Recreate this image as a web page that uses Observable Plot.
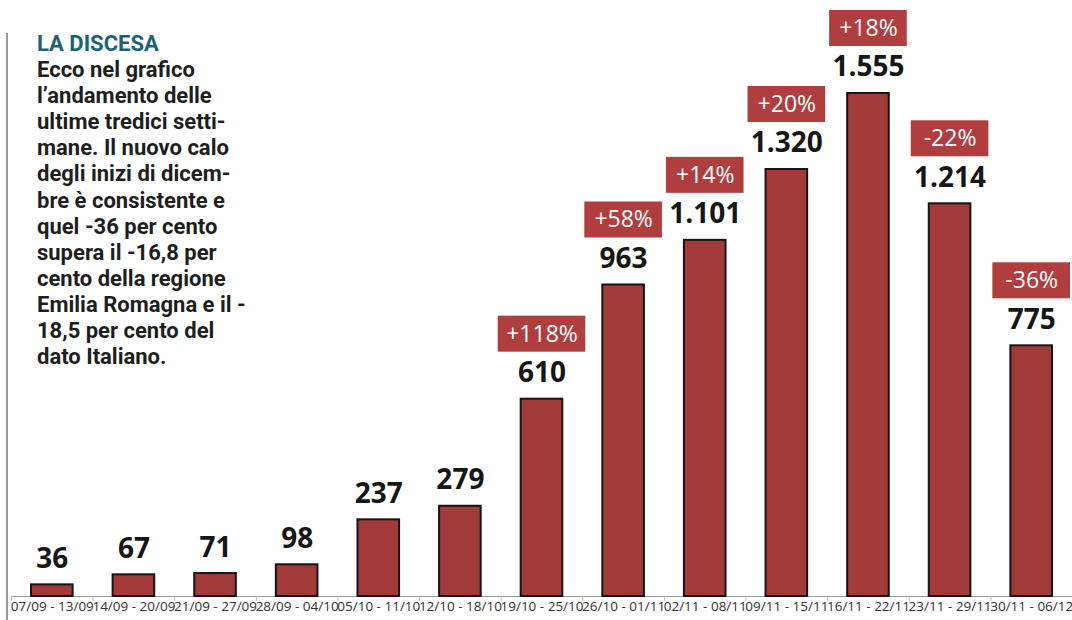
<!DOCTYPE html>
<html>
<head>
<meta charset="utf-8">
<script src="https://cdn.jsdelivr.net/npm/d3@7"></script>
<script src="https://cdn.jsdelivr.net/npm/@observablehq/plot@0.6"></script>
<style>
  html, body { margin: 0; padding: 0; background: #fff; }
  #wrap { position: relative; width: 1072px; height: 620px; overflow: hidden; }
  #rule { position: absolute; left: 6px; top: 33px; width: 0; height: 590px; border-left: 2px solid #999; }
  #note { position: absolute; left: 37px; top: 31px; font-family: Roboto, sans-serif; font-weight: 700; font-size: 22px; color: #1e1e1e; }
  #note div { height: 26.1px; line-height: 26.1px; white-space: nowrap; }
  #note .t { color: #1b6178; font-weight: 700; }
  #chart { position: absolute; left: 0; top: 0; }
</style>
</head>
<body>
<div id="wrap">
  <div id="chart"></div>
  <div id="rule"></div>
  <div id="note"></div>
</div>
<script>
const noteTitle = "LA DISCESA";
const noteLines = ["Ecco nel grafico", "l’andamento delle", "ultime tredici setti-", "mane. Il nuovo calo", "degli inizi di dicem-", "bre è consistente e", "quel -36 per cento", "supera il -16,8 per", "cento della regione", "Emilia Romagna e il -", "18,5 per cento del", "dato Italiano."];
const weeks = ["07/09 - 13/09","14/09 - 20/09","21/09 - 27/09","28/09 - 04/10","05/10 - 11/10","12/10 - 18/10","19/10 - 25/10","26/10 - 01/11","02/11 - 08/11","09/11 - 15/11","16/11 - 22/11","23/11 - 29/11","30/11 - 06/12"];
const cases = [36, 67, 71, 98, 237, 279, 610, 963, 1101, 1320, 1555, 1214, 775];
const changes = ["", "", "", "", "", "", "+118%", "+58%", "+14%", "+20%", "+18%", "-22%", "-36%"];

const note = d3.select("#note");
note.append("div").attr("class", "t").text(noteTitle);
noteLines.forEach(l => note.append("div").text(l));

const data = weeks.map((w, i) => ({week: w, value: cases[i], change: changes[i]}));
const withChange = data.filter(d => d.change !== "");
const fmt = d3.formatLocale({decimal: ",", thousands: ".", grouping: [3], currency: ["", "€"]}).format(",d");

const chart = Plot.plot({
  width: 1072,
  height: 620,
  marginLeft: 11,
  marginRight: 0,
  marginTop: 93,
  marginBottom: 24,
  style: {fontFamily: "Open Sans, sans-serif", background: "transparent"},
  x: {domain: weeks, padding: 0, round: false, label: null},
  y: {domain: [0, 1555], axis: null},
  marks: [
    Plot.ruleY([0], {stroke: "#9a9a9a", strokeWidth: 1.2}),
    Plot.ruleX(weeks, {x: d => d, y1: 0, y2: 0, dx: -40.8, insetBottom: -5, stroke: "#bbb"}),
    Plot.barY(data, {x: "week", y: "value", insetLeft: 20, insetRight: 20, fill: "#a23a3a", stroke: "#151515", strokeWidth: 2}),
    Plot.text(data, {x: "week", y: "value", text: d => fmt(d.value), dy: -26, fontSize: 28, fontWeight: 700, fill: "#161616"}),
    Plot.barY(withChange.filter(d => d.change.length <= 4), {x: "week", y1: "value", y2: "value", dy: -65, insetTop: -18, insetBottom: -18, insetLeft: 2, insetRight: 2, fill: "#b13e3e"}),
    Plot.barY(withChange.filter(d => d.change.length > 4), {x: "week", y1: "value", y2: "value", dy: -65, insetTop: -18, insetBottom: -18, insetLeft: -3, insetRight: -3, fill: "#b13e3e"}),
    Plot.text(withChange, {x: "week", y: "value", text: "change", dy: -65, fontSize: 23, fill: "#fff"}),
    Plot.axisX({tickSize: 0, tickPadding: 5, fontSize: 13.5, fill: "#333", label: null})
  ]
});
document.getElementById("chart").appendChild(chart);
</script>
</body>
</html>
